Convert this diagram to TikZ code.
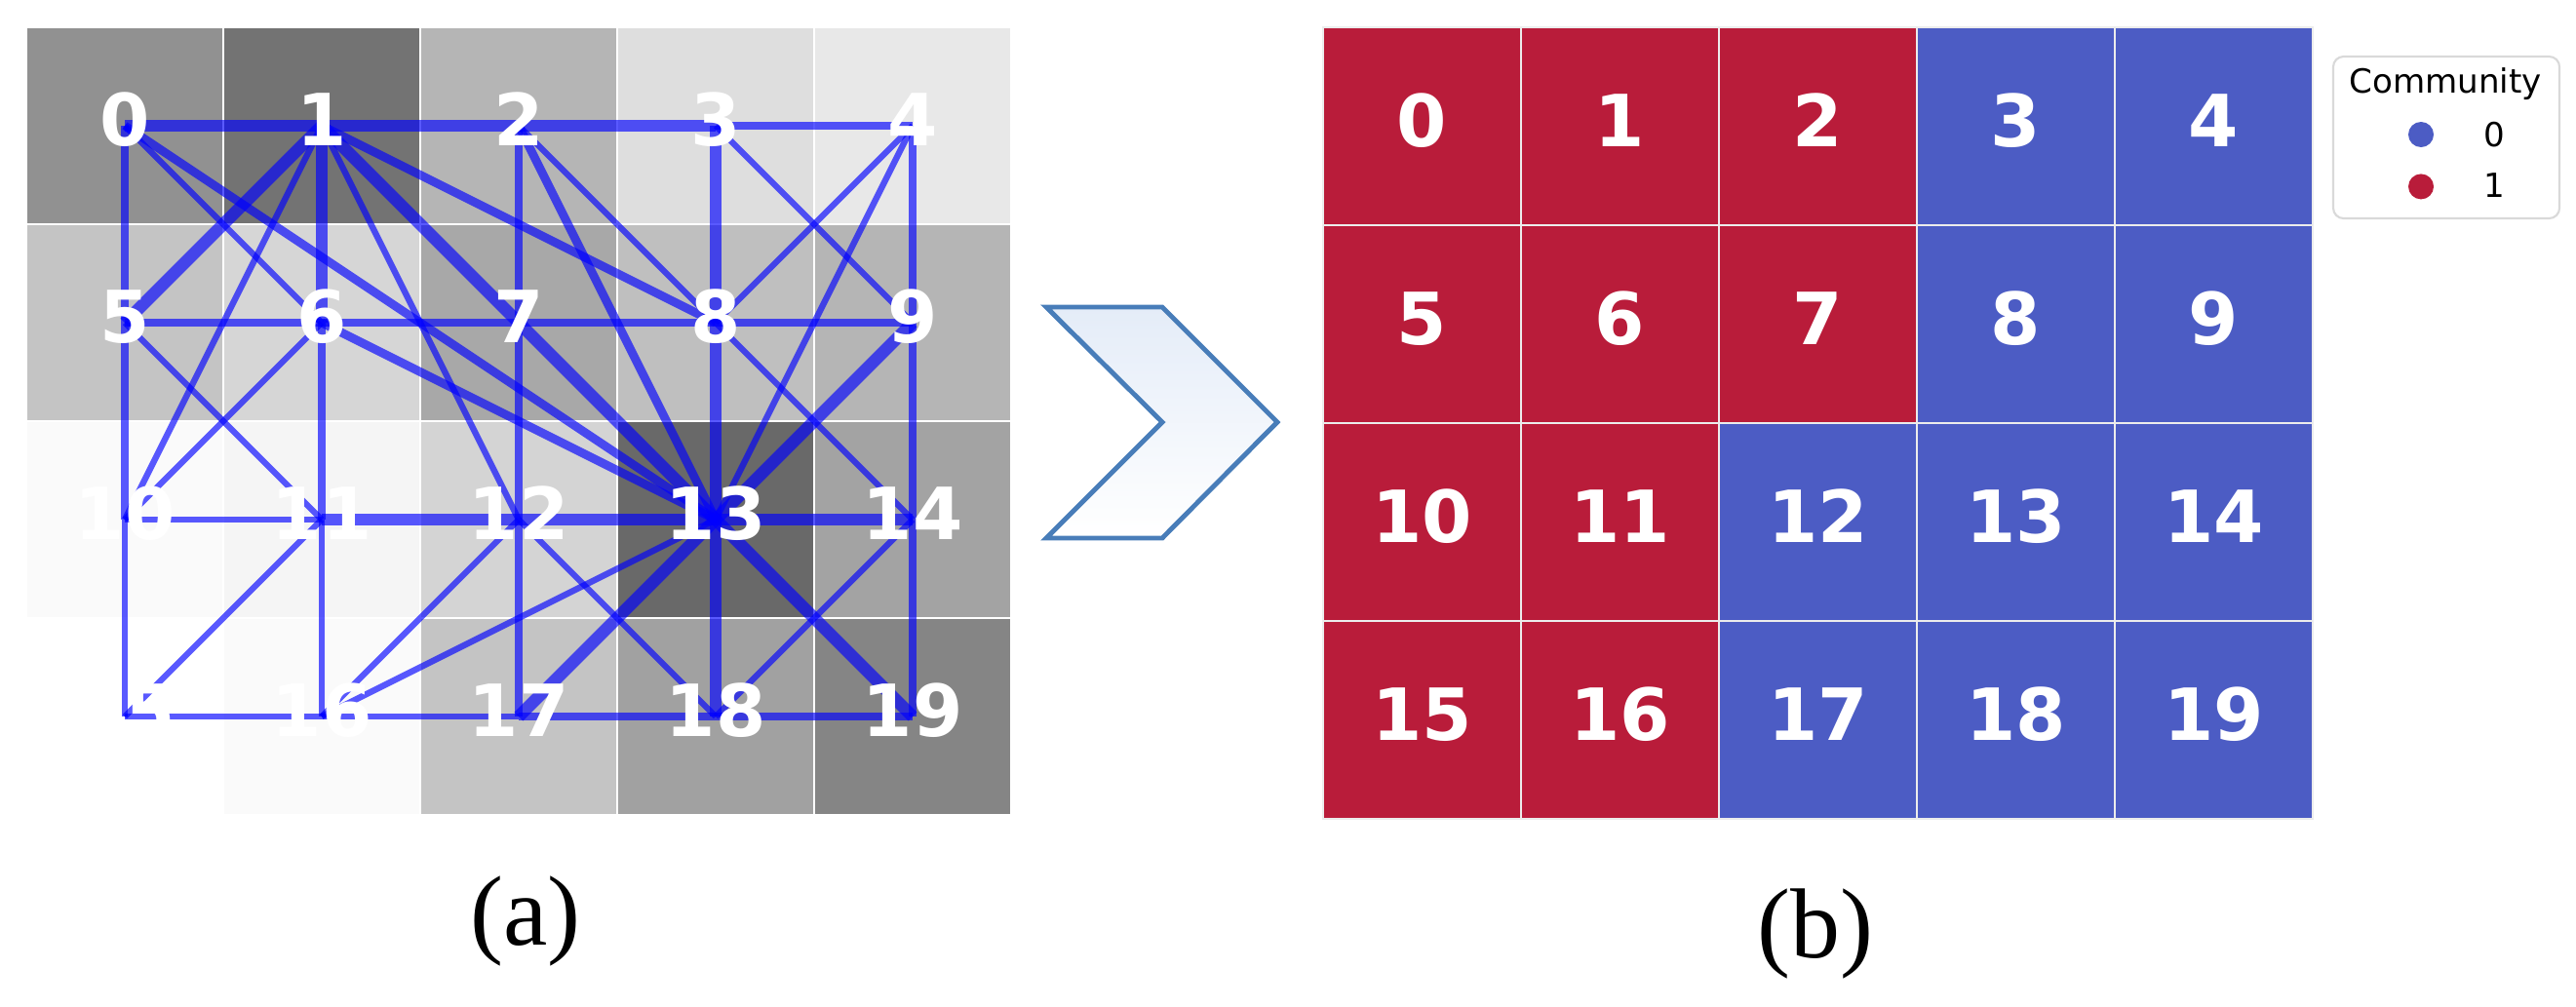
\documentclass[tikz,border=0pt]{standalone}
\usepackage{fontspec}
\setmainfont{Liberation Serif}
\newfontfamily\djsans{DejaVu Sans}
\usepackage{tikz}
\usetikzlibrary{arrows.meta,positioning,calc}
\tikzset{
  graycell/.style ={draw=white, line width=0.6pt, fill=black!#1},
  thinedge/.style ={draw=blue, opacity=0.65, line width=1.8pt},
  midedge/.style  ={draw=blue, opacity=0.65, line width=2.5pt},
  thickedge/.style={draw=blue, opacity=0.65, line width=3.6pt},
  numlbl/.style   ={text=white, font=\djsans\bfseries\fontsize{21}{21}\selectfont,
                    inner sep=0pt, text height=0.57cm, text depth=0.16cm},
  commcell/.style ={numlbl, fill=#1, draw=white!85!gray, line width=0.6pt,
                    minimum size=2.03cm},
  legbox/.style   ={draw=black!15, rounded corners=3pt, fill=white, line width=0.6pt},
  legdot/.style   ={circle, fill=#1, minimum size=0.26cm, inner sep=0pt},
  legtxt/.style   ={font=\djsans\fontsize{9.7}{10}\selectfont, inner sep=0pt},
  chevron/.style  ={draw=chevblue, line width=1.4pt, top color=chevfill,
                    bottom color=white},
  caplbl/.style   ={font=\fontsize{29}{29}\selectfont, inner sep=0pt},
}
\definecolor{commred} {RGB}{185,28,58}
\definecolor{commblue}{RGB}{76,92,196}
\definecolor{chevblue}{RGB}{72,125,185}
\definecolor{chevfill}{RGB}{228,236,248}

\begin{document}
\begin{tikzpicture}
  \useasboundingbox (0,0) rectangle (26.42,10.32);
  % (a) grid with graph
  \foreach \r/\vals in {0/{43,55,29,13,9},1/{23,16,34,25,29},
                        2/{2,4,17,59,36},3/{0,2,23,37,48}}{
    \foreach \g [count=\c from 0] in \vals
      \path[graycell=\g] (0.27+2.02*\c,10.04-2.02*\r) rectangle ++(2.02,-2.02);
  }
  \foreach \i in {0,...,19}{
    \pgfmathtruncatemacro\c{mod(\i,5)}
    \pgfmathtruncatemacro\r{div(\i,5)}
    \coordinate (v\i) at (1.28+2.02*\c,9.03-2.02*\r);
  }
  \foreach \a/\b in {10/11,15/16,16/17,10/15,11/16,11/15,12/16,13/16,0/6,1/10,
                     1/12,2/8,3/9,4/8,4/13,5/11,6/10,8/14,12/18,14/18}
    \draw[thinedge] (v\a) -- (v\b);
  \foreach \a/\b in {3/4,5/6,6/7,7/8,8/9,0/5,5/10,2/7,7/12,12/17,4/9,9/14,
                     14/19,6/11,17/18,18/19,1/8,6/13,0/13,2/13}
    \draw[midedge] (v\a) -- (v\b);
  \foreach \a/\b in {0/1,1/2,2/3,1/6,3/8,8/13,13/18,12/13,13/14,11/12,1/5,1/7,
                     7/13,9/13,13/17,13/19}
    \draw[thickedge] (v\a) -- (v\b);
  \foreach \i in {0,...,19}
    \node[numlbl] (t\i) at (v\i) {\i};

  \path[chevron] (10.73,7.17) -- (11.92,7.17) -- (13.10,5.99) -- (11.92,4.80)
    -- (10.73,4.80) -- (11.92,5.99) -- cycle;

  % (b) communities
  \foreach \i/\col in {0/commred,1/commred,2/commred,3/commblue,4/commblue,
                       5/commred,6/commred,7/commred,8/commblue,9/commblue,
                       10/commred,11/commred,12/commblue,13/commblue,14/commblue,
                       15/commred,16/commred,17/commblue,18/commblue,19/commblue}{
    \pgfmathtruncatemacro\c{mod(\i,5)}
    \pgfmathtruncatemacro\r{div(\i,5)}
    \node[commcell=\col] (c\i) at (14.585+2.03*\c,9.025-2.03*\r) {\i};
  }
  \node[legbox, minimum width=2.32cm, minimum height=1.66cm] (leg) at (25.09,8.91) {};
  \node[legtxt] (legt) at (25.08,9.46) {Community};
  \node[legdot=commblue] (d0) at (24.83,8.94) {};
  \node[legdot=commred, below=0.26cm of d0] (d1) {};
  \node[legtxt] (l0) at (25.58,8.94) {0};
  \node[legtxt] (l1) at (25.58,8.42) {1};

  \node[caplbl] (capa) at (5.39,0.87) {(a)};
  \node[caplbl] (capb) at (18.62,0.74) {(b)};
\end{tikzpicture}
\end{document}
